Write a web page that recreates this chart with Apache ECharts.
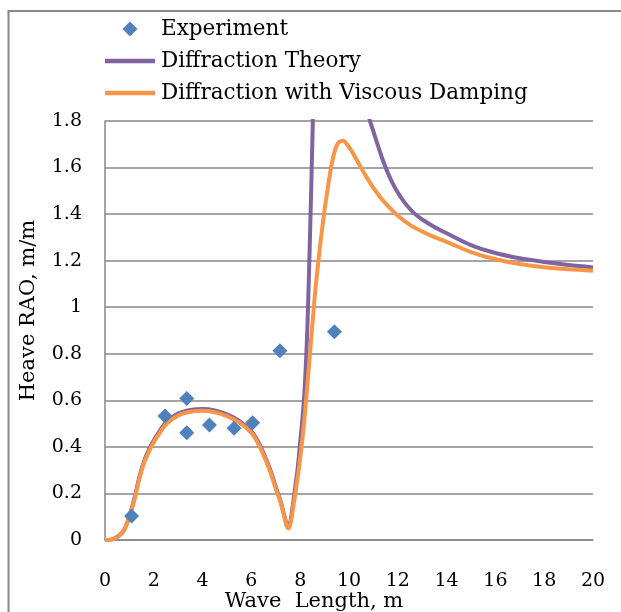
<!DOCTYPE html>
<html>
<head>
<meta charset="utf-8">
<script src="https://cdn.jsdelivr.net/npm/echarts@6/dist/echarts.min.js"></script>
<style>html,body{margin:0;padding:0;background:#fff;}#c{width:621px;height:612px;}</style>
</head>
<body>
<div id="c"></div>
<script>
// Experiment points
const expX = [1.09, 2.46, 3.35, 3.35, 4.28, 5.29, 6.05, 7.17, 9.40];
const expY = [0.103, 0.533, 0.608, 0.461, 0.494, 0.48, 0.504, 0.813, 0.895];

// Diffraction Theory
const theoryX = [0, 0.3, 0.6, 0.8, 1.0, 1.2, 1.4, 1.6, 1.8, 2.0, 2.5, 3.0, 3.5, 4.0, 4.5, 5.0, 5.5, 6.0, 6.3, 6.6, 6.8, 7.0, 7.2, 7.35, 7.45, 7.52, 7.6, 7.7, 7.8, 7.9, 8.0, 8.1, 8.2, 8.3, 8.4, 8.5, 8.6, 8.8, 9.0, 9.5, 10.0, 10.3, 10.6, 10.86, 11.0, 11.2, 11.4, 11.6, 11.8, 12.0, 12.2, 12.4, 12.7, 13.0, 13.5, 14.0, 15.0, 16.0, 17.0, 18.0, 19.0, 20.0];
const theoryY = [0, 0.003, 0.021, 0.047, 0.104, 0.176, 0.267, 0.338, 0.388, 0.428, 0.505, 0.543, 0.559, 0.563, 0.557, 0.54, 0.512, 0.467, 0.418, 0.348, 0.294, 0.228, 0.165, 0.105, 0.065, 0.055, 0.08, 0.15, 0.23, 0.31, 0.42, 0.53, 0.68, 0.93, 1.30, 1.72, 2.2, 3.0, 3.2, 3.0, 2.4, 2.1, 1.9, 1.8, 1.755, 1.69, 1.628, 1.575, 1.53, 1.493, 1.461, 1.434, 1.401, 1.377, 1.345, 1.318, 1.267, 1.233, 1.21, 1.194, 1.181, 1.171];

// Diffraction with Viscous Damping
const dampX = [0, 0.3, 0.6, 0.8, 1.0, 1.2, 1.4, 1.6, 1.8, 2.0, 2.5, 3.0, 3.5, 4.0, 4.5, 5.0, 5.5, 6.0, 6.3, 6.6, 6.8, 7.0, 7.2, 7.35, 7.45, 7.52, 7.6, 7.8, 8.0, 8.2, 8.4, 8.6, 8.8, 9.0, 9.1, 9.2, 9.3, 9.4, 9.5, 9.6, 9.75, 9.9, 10.1, 10.4, 10.7, 11.0, 11.3, 11.6, 12.0, 12.5, 13.0, 13.5, 14.0, 15.0, 16.0, 17.0, 18.0, 19.0, 20.0];
const dampY = [0, 0.003, 0.02, 0.045, 0.10, 0.17, 0.26, 0.33, 0.38, 0.42, 0.497, 0.535, 0.551, 0.555, 0.549, 0.532, 0.505, 0.46, 0.41, 0.34, 0.285, 0.22, 0.16, 0.10, 0.06, 0.05, 0.07, 0.20, 0.35, 0.55, 0.80, 1.05, 1.25, 1.42, 1.49, 1.56, 1.62, 1.665, 1.695, 1.71, 1.715, 1.703, 1.672, 1.617, 1.562, 1.513, 1.47, 1.434, 1.393, 1.354, 1.325, 1.301, 1.281, 1.237, 1.206, 1.186, 1.172, 1.163, 1.157];

const xTicks = { min: 0, max: 20, interval: 2 };
const yTicks = { min: 0, max: 1.8, interval: 0.2 };

const pair = (xs, ys) => xs.map((x, i) => [x, ys[i]]);
const FONT = 'DejaVu Serif';
const GRAY = '#878787';
const DIAMOND_ICON = 'path://M0,0M52,0M52,15M0,15M26,0L33.5,7.5L26,15L18.5,7.5Z';
const LINE_ICON = 'path://M0,0M52,0M52,15M0,15M1,5.25L51,5.25L51,9.75L1,9.75Z';

const chart = echarts.init(document.getElementById('c'), null, { renderer: 'canvas' });
chart.setOption({
  animation: false,
  backgroundColor: '#fff',
  graphic: [{
    type: 'rect', silent: true,
    shape: { x: 8.5, y: 11, width: 800, height: 800 },
    style: { fill: 'none', stroke: GRAY, lineWidth: 2 }
  }],
  legend: {
    orient: 'vertical', left: 99, top: 13,
    itemWidth: 52, itemHeight: 15, itemGap: 10,
    textStyle: { fontFamily: FONT, fontSize: 21.5, color: '#000', lineHeight: 22 },
    data: [
      { name: 'Experiment', icon: DIAMOND_ICON },
      { name: 'Diffraction Theory', icon: LINE_ICON },
      { name: 'Diffraction with Viscous Damping', icon: LINE_ICON }
    ]
  },
  grid: { left: 105, right: 28, top: 121, bottom: 72, containLabel: false, outerBoundsMode: 'none' },
  xAxis: {
    type: 'value', min: xTicks.min, max: xTicks.max, interval: xTicks.interval,
    name: 'Wave  Length, m', nameLocation: 'middle', nameGap: 51, nameMoveOverlap: false,
    nameTextStyle: { fontFamily: FONT, fontSize: 21, color: '#000', padding: [0, 70, 0, 0] },
    axisLine: { show: true, lineStyle: { color: GRAY, width: 1.5 } },
    axisTick: { show: false },
    splitLine: { show: false },
    axisLabel: { fontFamily: FONT, fontSize: 19, color: '#000', margin: 32 }
  },
  yAxis: {
    type: 'value', min: yTicks.min, max: yTicks.max, interval: yTicks.interval,
    name: 'Heave RAO, m/m', nameLocation: 'middle', nameGap: 66, nameMoveOverlap: false,
    nameTextStyle: { fontFamily: FONT, fontSize: 21, color: '#000', padding: [0, 0, 0, 40] },
    axisLine: { show: true, lineStyle: { color: GRAY, width: 1.5 } },
    axisTick: { show: false },
    splitLine: { show: true, lineStyle: { color: GRAY, width: 1.5 } },
    axisLabel: { fontFamily: FONT, fontSize: 19, color: '#000', margin: 23 }
  },
  series: [
    {
      name: 'Experiment', type: 'scatter', symbol: 'diamond', symbolSize: 15,
      itemStyle: { color: '#4F81BD', opacity: 1 }, z: 5,
      data: pair(expX, expY)
    },
    {
      name: 'Diffraction Theory', type: 'line', symbol: 'none', smooth: 0.3,
      lineStyle: { color: '#8064A2', width: 4 }, itemStyle: { color: '#8064A2' },
      clip: true, z: 3,
      data: pair(theoryX, theoryY)
    },
    {
      name: 'Diffraction with Viscous Damping', type: 'line', symbol: 'none', smooth: 0.3,
      lineStyle: { color: '#F79646', width: 4 }, itemStyle: { color: '#F79646' },
      clip: true, z: 4,
      data: pair(dampX, dampY)
    }
  ]
});
</script>
</body>
</html>
